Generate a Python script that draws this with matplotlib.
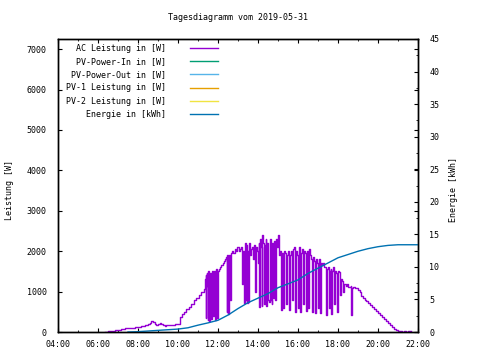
import numpy as np
import matplotlib
matplotlib.use("Agg")
import matplotlib.pyplot as plt
from matplotlib.ticker import MultipleLocator, FuncFormatter

plt.rcParams['font.family'] = 'DejaVu Sans Mono'
plt.rcParams['font.size'] = 6

title = "Tagesdiagramm vom 2019-05-31"

# AC power, minutes since midnight / watts
ac_min = [380, 390, 400, 410, 420, 430, 440, 450, 460, 470, 480, 490, 500, 510, 515,
          520, 525, 530, 535, 540, 545, 550, 555, 560, 565, 570, 580, 590, 600, 604,
          606, 612, 618, 625, 632, 640, 648, 655, 662, 670, 678, 685, 692, 700, 705,
          680 + 0, 683, 684, 686, 688, 689, 691, 693, 694, 696, 699, 700, 702, 704, 705,
          707, 710, 711, 713, 716, 717, 719,
          722, 726, 730, 734, 738, 742,
          745, 746, 748, 750, 751, 753, 756, 758,
          762, 766, 770, 774, 778, 782, 786, 790, 793, 795,
          797, 799, 801, 803, 805, 807, 809, 811, 813, 815,
          818, 821, 824, 827, 830, 833, 836, 839,
          842, 844, 846, 849, 851, 853, 856, 858, 860, 863, 865, 867,
          870, 873, 875, 878, 881, 883, 886, 889, 892, 895,
          898, 901, 903, 906, 908, 911, 914, 916, 919, 922, 924, 927, 930, 932, 935,
          938, 941, 943,
          946, 949, 951, 954, 957, 959, 962, 965, 967, 970, 973, 975, 978, 981, 983,
          986, 989, 991, 994, 997,
          1000, 1003, 1006, 1009, 1011, 1014, 1017, 1019, 1022, 1025, 1027, 1030,
          1033, 1036, 1039,
          1042, 1044, 1047, 1050, 1052, 1055, 1058, 1060, 1063, 1066, 1068, 1071,
          1074, 1076, 1079,
          1082, 1085, 1087, 1090, 1093, 1096, 1099, 1103, 1107, 1111, 1115, 1118,
          1119, 1121, 1126, 1131, 1136, 1140, 1145, 1150, 1155, 1160, 1165, 1170,
          1176, 1182, 1188, 1194, 1200, 1206, 1212, 1218, 1224, 1230, 1236, 1242,
          1248, 1254, 1260, 1266, 1272, 1278, 1284, 1290, 1299]
ac_watt = [0, 20, 30, 50, 60, 70, 90, 100, 110, 120, 130, 150, 170, 200, 230,
           260, 250, 200, 180, 190, 220, 200, 170, 140, 170, 180, 180, 190, 200, 210,
           380, 450, 500, 560, 620, 700, 780, 850, 920, 1000, 1070, 1150, 1230, 1300, 1320,
           1300, 1400, 350, 1450, 1350, 300, 1500, 1400, 280, 1450, 1350, 320, 1500, 1450, 400,
           1500, 1400, 300, 1550, 1450, 350, 1500,
           1550, 1600, 1650, 1700, 1750, 1800,
           1850, 500, 1900, 1850, 450, 1900, 800, 1950,
           2000, 1950, 2050, 2000, 2100, 2000, 2050, 2100, 1200, 2000,
           750, 720, 2200, 800, 2150, 720, 2000, 750, 2200, 1900,
           2050, 2100, 1800, 2150, 1000, 2100, 2000, 1700,
           2200, 620, 2300, 2100, 650, 2400, 2200, 700, 2150, 2300, 640, 2200,
           800, 750, 2300, 780, 700, 2200, 850, 2250, 800, 2300,
           2100, 2400, 1900, 2000, 550, 1950, 1900, 600, 2000, 1950, 700, 1900, 2000, 550, 1900,
           2000, 1950, 800,
           2050, 2100, 500, 2000, 1900, 600, 2100, 2000, 500, 1950, 2050, 700, 2000, 1950, 520,
           2000, 1900, 600, 2050, 1900,
           1800, 500, 1850, 1750, 470, 1800, 1700, 600, 1800, 1750, 480, 1700,
           1650, 1700, 1600,
           1600, 420, 1550, 1600, 600, 1500, 1550, 450, 1500, 1600, 700, 1500,
           1450, 500, 1500,
           1480, 1350, 910, 1300, 1250, 1000, 1200, 1150, 1180, 1120, 1110, 1150,
           420, 1100, 1120, 1090, 1080, 1050, 980, 900, 840, 800, 760, 710,
           670, 610, 560, 510, 460, 420, 370, 320, 270, 220, 170, 120,
           80, 40, 20, 30, 10, 25, 10, 20, 15]

# Energy, minutes since midnight / kWh
en_min = [450, 480, 510, 540, 570, 600, 630, 660, 690, 720, 750, 780, 810, 840,
          870, 900, 930, 960, 990, 1020, 1050, 1080, 1110, 1140, 1170, 1200, 1230,
          1260, 1320]
en_kwh = [0.0, 0.05, 0.15, 0.25, 0.35, 0.45, 0.65, 1.05, 1.4, 1.8, 2.6, 3.6, 4.5, 5.2,
          5.9, 6.8, 7.4, 8.0, 9.0, 9.8, 10.6, 11.4, 11.9, 12.4, 12.8, 13.1, 13.3,
          13.4, 13.4]

labels = ["AC Leistung in [W]", "PV-Power-In in [W]", "PV-Power-Out in [W]",
          "PV-1 Leistung in [W]", "PV-2 Leistung in [W]", "Energie in [kWh]"]
colors = ["#9400d3", "#009e73", "#56b4e9", "#e69f00", "#f0e442", "#0072b2"]

# sort the AC series by time (segments typed in pieces)
order = np.argsort(np.array(ac_min), kind="stable")
ac_t = np.array(ac_min)[order] / 60.0
ac_w = np.array(ac_watt)[order]
en_t = np.array(en_min) / 60.0

fig = plt.figure(figsize=(4.8, 3.6), dpi=100)
ax = fig.add_axes([58 / 480, 1 - 332 / 360, 360 / 480, 293 / 360])
ax2 = ax.twinx()

h_ac, = ax.plot(ac_t, ac_w, color=colors[0], lw=1, drawstyle="steps-post")
# empty series (no data that day)
h_in, = ax.plot([], [], color=colors[1], lw=1)
h_out, = ax.plot([], [], color=colors[2], lw=1)
h_pv1, = ax.plot([], [], color=colors[3], lw=1)
h_pv2, = ax.plot([], [], color=colors[4], lw=1)
h_en, = ax2.plot(en_t, en_kwh, color=colors[5], lw=1)

ax.set_xlim(4, 22)
ax.set_ylim(0, 7250)
ax2.set_ylim(0, 45)

ax.xaxis.set_major_locator(MultipleLocator(2))
ax.xaxis.set_minor_locator(MultipleLocator(1))
ax.xaxis.set_major_formatter(FuncFormatter(lambda v, p: "%02d:00" % int(round(v))))
ax.yaxis.set_major_locator(MultipleLocator(1000))
ax2.yaxis.set_major_locator(MultipleLocator(5))
ax2.yaxis.set_minor_locator(MultipleLocator(2.5))

ax.tick_params(axis="x", which="both", direction="in", top=True, pad=6)
ax.tick_params(axis="x", which="major", length=3)
ax.tick_params(axis="x", which="minor", length=1.5)
ax.tick_params(axis="y", direction="in", length=3, right=True, pad=8)
ax2.tick_params(axis="y", which="major", direction="in", length=3, pad=8)
ax2.tick_params(axis="y", which="minor", direction="in", length=1.5)

for a in (ax, ax2):
    for s in a.spines.values():
        s.set_linewidth(1)

fig.text(238 / 480, 1 - 18 / 360, title, ha="center", va="center")
fig.text(10 / 480, 1 - 190 / 360, "Leistung [W]", rotation=90, ha="center", va="center")
fig.text(454 / 480, 1 - 190 / 360, "Energie [kWh]", rotation=90, ha="center", va="center")

ax2.legend([h_ac, h_in, h_out, h_pv1, h_pv2, h_en], labels,
           loc="upper right", bbox_to_anchor=(0.444, 0.983),
           frameon=False, markerfirst=False, borderpad=0, borderaxespad=0,
           handlelength=3.4, handletextpad=2.8, labelspacing=0.5)

fig.savefig("out.png", dpi=100)
